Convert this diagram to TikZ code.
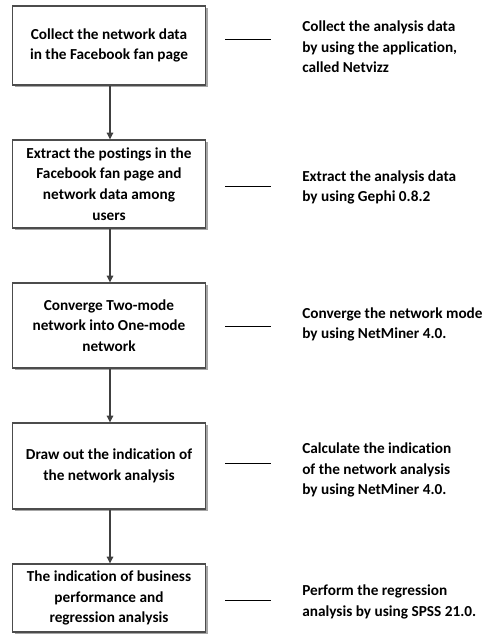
\documentclass[tikz,border=0pt]{standalone}
\usepackage{fontspec}
\setmainfont{Carlito}[Ligatures=NoCommon]
\usetikzlibrary{shadows,arrows.meta}
\begin{document}
\begin{tikzpicture}[x=0.75pt,y=-0.75pt,
  stepbox/.style={draw=black!70, line width=1.1pt, fill=white, align=center,
    minimum width=193*0.75pt, inner sep=0pt,
    font=\bfseries\fontsize{11.45}{15.5}\selectfont,
    drop shadow={shadow xshift=1.6pt, shadow yshift=-1.6pt, fill=black!35, opacity=1}},
  note/.style={anchor=west, align=left, inner sep=0pt, font=\bfseries\fontsize{11.45}{15.5}\selectfont},
  flow/.style={draw=black!75, line width=0.8pt, -{Triangle[length=5pt,width=5pt]}},
  tie/.style={draw=black, line width=0.7pt}]
\useasboundingbox (0,0) rectangle (485,637);
\node[stepbox, minimum height=79*0.75pt] (b1) at (109,45.5) {Collect the network data\\in the Facebook fan page};
\node[stepbox, minimum height=88*0.75pt] (b2) at (109,184) {Extract the postings in the\\Facebook fan page and\\network data among\\users};
\node[stepbox, minimum height=85*0.75pt] (b3) at (109,325.5) {Converge Two-mode\\network into One-mode\\network};
\node[stepbox, minimum height=86*0.75pt] (b4) at (109,466) {Draw out the indication of\\the network analysis};
\node[stepbox, minimum height=68*0.75pt] (b5) at (109,598) {The indication of business\\performance and\\regression analysis};
\draw[flow] (b1.south -| 110,0) -- (b2.north -| 110,0);
\draw[flow] (b2.south -| 110,0) -- (b3.north -| 110,0);
\draw[flow] (b3.south -| 110,0) -- (b4.north -| 110,0);
\draw[flow] (b4.south -| 110,0) -- (b5.north -| 110,0);
\node[note] (t1) at (302,47) {Collect the analysis data\\by using the application,\\called Netvizz};
\node[note] (t2) at (302,187.5) {Extract the analysis data\\by using Gephi 0.8.2};
\node[note] (t3) at (302,324.5) {Converge the network mode\\by using NetMiner 4.0.};
\node[note] (t4) at (302,470) {Calculate the indication\\of the network analysis\\by using NetMiner 4.0.};
\node[note] (t5) at (302,602) {Perform the regression\\analysis by using SPSS 21.0.};
\coordinate (l1a) at (225,39); \coordinate (l1b) at (271,39);
\coordinate (l2a) at (225,186); \coordinate (l2b) at (271,186);
\coordinate (l3a) at (225,326); \coordinate (l3b) at (271,326);
\coordinate (l4a) at (225,463); \coordinate (l4b) at (271,463);
\coordinate (l5a) at (225,600); \coordinate (l5b) at (271,600);
\draw[tie] (l1a) -- (l1b);
\draw[tie] (l2a) -- (l2b);
\draw[tie] (l3a) -- (l3b);
\draw[tie] (l4a) -- (l4b);
\draw[tie] (l5a) -- (l5b);
\end{tikzpicture}
\end{document}
